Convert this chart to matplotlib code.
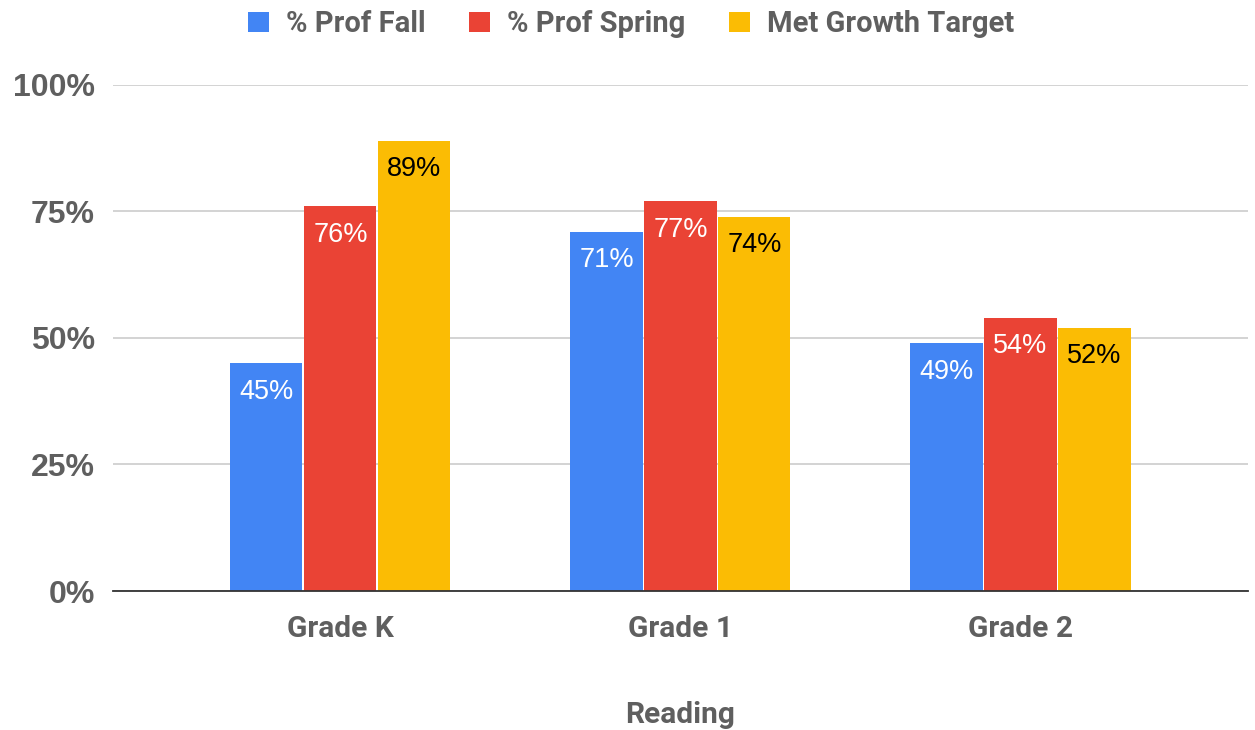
import matplotlib.pyplot as plt
import numpy as np

grades = ['Grade K', 'Grade 1', 'Grade 2']
series = ['% Prof Fall', '% Prof Spring', 'Met Growth Target']
prof_fall = [0.45, 0.71, 0.49]
prof_spring = [0.76, 0.77, 0.54]
met_growth = [0.89, 0.74, 0.52]
yticks = [0, 0.25, 0.5, 0.75, 1.0]
ytick_labels = ['0%', '25%', '50%', '75%', '100%']

colors = ['#4285F4', '#EA4335', '#FBBC04']
label_colors = ['white', 'white', 'black']
grey = '#5f5f5f'

fig = plt.figure(figsize=(12.55, 7.30), dpi=100)
ax = fig.add_axes([0.09, 0.1904, 0.9044, 0.6932])

x = np.arange(len(grades))
step = 0.2176
width = 0.212
for i, (name, vals) in enumerate(zip(series, [prof_fall, prof_spring, met_growth])):
    bars = ax.bar(x + (i - 1) * step, vals, width, color=colors[i], label=name, zorder=3)
    for b, v in zip(bars, vals):
        ax.annotate('%d%%' % round(v * 100), (b.get_x() + b.get_width() / 2, v),
                    xytext=(0, -20.5), textcoords='offset points', ha='center', va='center',
                    fontsize=19.5, family='Liberation Sans', color=label_colors[i], zorder=4)

ax.set_xlim(-0.669, 2.669)
ax.set_ylim(0, 1.0)
ax.set_yticks(yticks)
ax.set_yticklabels(ytick_labels, family='Liberation Sans', fontweight='bold', fontsize=23, color=grey)
ax.set_xticks(x)
ax.set_xticklabels(grades, family='Roboto', fontweight='bold', fontsize=21.5, color=grey)
ax.tick_params(axis='y', length=0, pad=13)
ax.tick_params(axis='x', length=0, pad=17)
ax.grid(axis='y', color='#cccccc', linewidth=1.2, zorder=0)
for s in ['top', 'right', 'left']:
    ax.spines[s].set_visible(False)
ax.spines['bottom'].set_color('#333333')
ax.spines['bottom'].set_linewidth(1.3)
ax.spines['bottom'].set_zorder(5)

ax.set_xlabel('Reading', family='Roboto', fontweight='bold', fontsize=21.5, color=grey, labelpad=42)

fig.legend(loc='upper center', bbox_to_anchor=(0.503, 1.022), ncol=3, frameon=False,
           handlelength=0.7, handleheight=0.7, handletextpad=0.6, columnspacing=1.5,
           prop={'family': 'Roboto', 'weight': 'bold', 'size': 21}, labelcolor=grey)

fig.savefig('out.png', dpi=100)
